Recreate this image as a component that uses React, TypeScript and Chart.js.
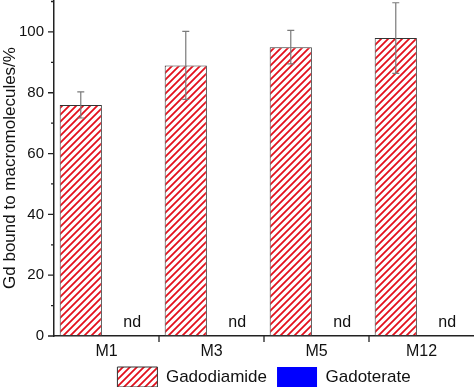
import React, { useEffect, useRef } from "react";
import { Chart, registerables } from "chart.js";

Chart.register(...registerables);

const categories = ["M1", "M3", "M5", "M12"];
const gadodiamide = [76, 89, 95, 98];
const gadodiamideErr = [4.3, 11.2, 5.5, 11.6];
const gadoterate = [0, 0, 0, 0];
const gadoterateLabels = ["nd", "nd", "nd", "nd"];
const yTickValues = [0, 10, 20, 30, 40, 50, 60, 70, 80, 90, 100, 110];

const FONT = "'Liberation Sans', Arial, sans-serif";

function makeHatch(): CanvasPattern | string {
  const c = document.createElement("canvas");
  const s = 7;
  c.width = s;
  c.height = s;
  const g = c.getContext("2d");
  if (!g) return "#fff";
  g.fillStyle = "#ffffff";
  g.fillRect(0, 0, s, s);
  g.strokeStyle = "#e3101c";
  g.lineWidth = 1.8;
  g.beginPath();
  g.moveTo(-1, s + 1);
  g.lineTo(s + 1, -1);
  g.moveTo(-2, 2);
  g.lineTo(2, -2);
  g.moveTo(s - 2, s + 2);
  g.lineTo(s + 2, s - 2);
  g.stroke();
  const p = g.createPattern(c, "repeat");
  return p || "#fff";
}

const decorPlugin = {
  id: "decor",
  afterLayout(chart: any) {
    // let the category labels extend below the (thin) x-axis box without being clipped
    const xs = chart.scales.x;
    xs.bottom = xs.top + 30;
  },
  afterDatasetsDraw(chart: any) {
    const ctx = chart.ctx;
    const ys = chart.scales.y;
    ctx.save();
    // error bars
    const meta0 = chart.getDatasetMeta(0);
    ctx.strokeStyle = "#7a7a7a";
    ctx.lineWidth = 1.2;
    meta0.data.forEach((bar: any, i: number) => {
      const v = gadodiamide[i];
      const e = gadodiamideErr[i];
      const top = ys.getPixelForValue(v + e);
      const bot = ys.getPixelForValue(v - e);
      const x = bar.x;
      ctx.beginPath();
      ctx.moveTo(x, top);
      ctx.lineTo(x, bot);
      ctx.moveTo(x - 3.5, top);
      ctx.lineTo(x + 3.5, top);
      ctx.moveTo(x - 3.5, bot);
      ctx.lineTo(x + 3.5, bot);
      ctx.stroke();
    });
    // nd labels
    const meta1 = chart.getDatasetMeta(1);
    ctx.fillStyle = "#111";
    ctx.font = `16px ${FONT}`;
    ctx.textAlign = "center";
    ctx.textBaseline = "bottom";
    meta1.data.forEach((bar: any, i: number) => {
      ctx.fillText(gadoterateLabels[i], bar.x, ys.getPixelForValue(0) - 5);
    });
    ctx.restore();
  },
  afterDraw(chart: any) {
    const ctx = chart.ctx;
    const ys = chart.scales.y;
    const xs = chart.scales.x;
    const area = chart.chartArea;
    ctx.save();
    ctx.strokeStyle = "#222";
    ctx.lineWidth = 1.3;
    ctx.beginPath();
    yTickValues.forEach((v) => {
      const py = ys.getPixelForValue(v);
      const len = v % 20 === 0 ? 6 : 3;
      ctx.moveTo(area.left - len, py);
      ctx.lineTo(area.left, py);
    });
    for (let i = 1; i < categories.length; i++) {
      const px = (xs.getPixelForTick(i - 1) + xs.getPixelForTick(i)) / 2;
      ctx.moveTo(px, area.bottom);
      ctx.lineTo(px, area.bottom + 6);
    }
    ctx.stroke();
    ctx.restore();
  },
};

export default function App() {
  const ref = useRef<HTMLCanvasElement>(null);
  useEffect(() => {
    document.body.style.margin = "0";
    Chart.defaults.font.family = FONT;
    Chart.defaults.color = "#111";
    const hatch = makeHatch();
    const chart = new Chart(ref.current as HTMLCanvasElement, {
      type: "bar",
      data: {
        labels: categories,
        datasets: [
          {
            label: "Gadodiamide",
            data: gadodiamide,
            backgroundColor: hatch as any,
            borderColor: "#333",
            borderWidth: 1,
            borderSkipped: false,
            barPercentage: 0.82,
            categoryPercentage: 0.98,
          },
          {
            label: "Gadoterate",
            data: gadoterate,
            backgroundColor: "#0000ff",
            borderColor: "#0000ff",
            borderWidth: 0,
            barPercentage: 0.82,
            categoryPercentage: 0.98,
          },
        ],
      },
      options: {
        animation: false,
        responsive: false,
        layout: { padding: { top: 0, right: 0, bottom: 0, left: 0 } },
        plugins: {
          tooltip: { enabled: false },
          legend: {
            position: "bottom",
            fullSize: false,
            maxHeight: 30,
            labels: {
              boxWidth: 40,
              boxHeight: 20,
              padding: 10,
              font: { size: 17 },
              color: "#111",
            },
          },
        },
        scales: {
          x: {
            grid: { display: false, drawTicks: false },
            border: { display: true, color: "#222", width: 1.5 },
            ticks: { font: { size: 16 }, padding: 6, color: "#111" },
            afterFit(scale: any) {
              scale.height = 21;
              scale.paddingLeft = 0;
              scale.paddingRight = 0;
            },
          },
          y: {
            min: 0,
            max: 110.5,
            grid: { display: false, drawTicks: false },
            border: { display: true, color: "#222", width: 1.5 },
            ticks: {
              stepSize: 10,
              padding: 10,
              font: { size: 15 },
              color: "#111",
              callback: (v: any) => (v % 20 === 0 && v <= 100 ? String(v) : null),
            },
            title: {
              display: true,
              text: "Gd bound to macromolecules/%",
              font: { size: 17 },
              color: "#111",
              padding: { top: 0, bottom: 0 },
            },
            afterFit(scale: any) {
              scale.width = 54;
              scale.paddingTop = 0;
              scale.paddingBottom = 0;
            },
          },
        },
      },
      plugins: [decorPlugin],
    });
    return () => chart.destroy();
  }, []);
  return (
    <div style={{ width: 474, height: 387 }}>
      <canvas ref={ref} width={474} height={387} />
    </div>
  );
}
